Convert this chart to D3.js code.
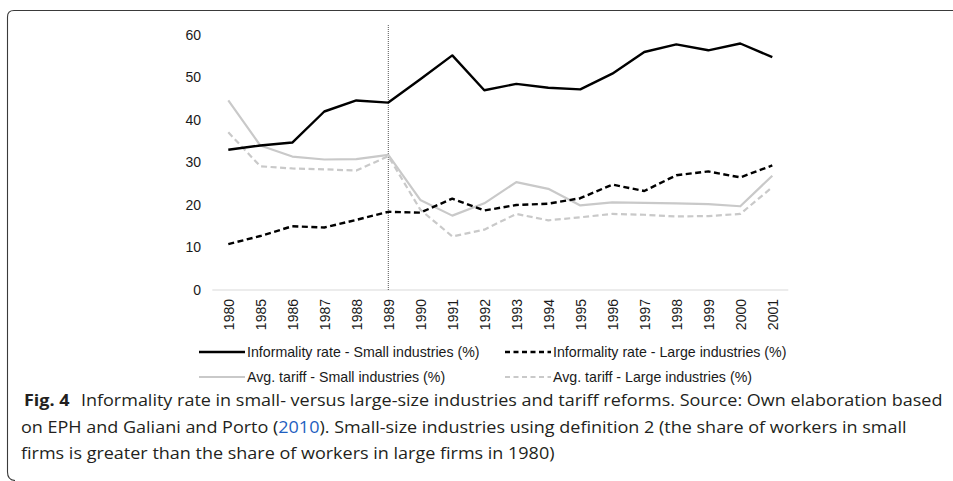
<!DOCTYPE html>
<html>
<head>
<meta charset="utf-8">
<script src="https://cdn.jsdelivr.net/npm/d3@7"></script>
<style>
  html, body { margin: 0; padding: 0; background: #fff; }
  svg { display: block; }
</style>
</head>
<body>
<svg id="chart" width="953" height="481"></svg>
<script>
const years = ["1980","1985","1986","1987","1988","1989","1990","1991","1992","1993","1994","1995","1996","1997","1998","1999","2000","2001"];
const informalSmall = [33.0,34.0,34.7,42.0,44.6,44.1,49.6,55.2,47.0,48.5,47.6,47.2,50.9,56.0,57.8,56.4,58.0,54.8];
const informalLarge = [10.8,12.7,15.0,14.7,16.5,18.4,18.2,21.5,18.7,20.0,20.3,21.6,24.8,23.3,27.0,27.9,26.5,29.3];
const tariffSmall = [44.6,34.0,31.4,30.7,30.8,31.8,21.2,17.5,20.4,25.4,23.8,19.9,20.6,20.5,20.4,20.2,19.7,26.9];
const tariffLarge = [37.1,29.1,28.6,28.4,28.1,31.5,18.9,12.6,14.2,17.9,16.4,17.1,17.9,17.7,17.3,17.4,17.9,24.2];
const yTicks = [0,10,20,30,40,50,60];
const reformYear = "1989";
const seriesNames = [
  "Informality rate - Small industries (%)",
  "Informality rate - Large industries (%)",
  "Avg. tariff - Small industries (%)",
  "Avg. tariff - Large industries (%)"
];

const svg = d3.select("#chart");

// frame
svg.append("path")
  .attr("d", "M953,10.5 H14 Q7.5,10.5 7.5,17 V472 Q7.5,480 15,480.5")
  .attr("fill", "none").attr("stroke", "#3a3a3a").attr("stroke-width", 1.1);

const x = d3.scalePoint().domain(years).range([228.3, 772.3]);
const y = d3.scaleLinear().domain([0, 60]).range([290, 35]);
const step = x.step();

// axis line
svg.append("line")
  .attr("x1", x(years[0]) - step/2).attr("x2", x(years[years.length-1]) + step/2)
  .attr("y1", y(0)).attr("y2", y(0))
  .attr("stroke", "#d9d9d9").attr("stroke-width", 1.2);

const axisFont = "Liberation Sans, Arial, sans-serif";

// y tick labels
const yAxis = d3.axisLeft(y).tickValues(yTicks).tickSize(0).tickPadding(0);
const gy = svg.append("g").attr("transform", "translate(201,0)").call(yAxis);
gy.select(".domain").remove();
gy.selectAll("text").attr("font-family", axisFont)
  .attr("font-size", 14).attr("fill", "#1a1a1a");

// x tick labels
const xAxis = d3.axisBottom(x).tickSize(0).tickPadding(0);
const gx = svg.append("g").attr("transform", `translate(0,${y(0)})`).call(xAxis);
gx.select(".domain").remove();
gx.selectAll("text")
  .attr("font-family", axisFont)
  .attr("font-size", 14).attr("fill", "#1a1a1a")
  .attr("text-anchor", "end")
  .attr("dy", null).attr("y", 0)
  .attr("transform", "translate(5,9) rotate(-90)");

// reform line
svg.append("line")
  .attr("x1", x(reformYear)).attr("x2", x(reformYear))
  .attr("y1", 25).attr("y2", y(0))
  .attr("stroke", "#555").attr("stroke-width", 1).attr("stroke-dasharray", "1,1");

const line = d3.line().x((d, i) => x(years[i])).y(d => y(d));
const styles = [
  {data: informalSmall, color: "#000", width: 2.4, dash: null},
  {data: informalLarge, color: "#000", width: 2.4, dash: "6,3.5"},
  {data: tariffSmall, color: "#c9c9c9", width: 2.2, dash: null},
  {data: tariffLarge, color: "#c9c9c9", width: 2.2, dash: "6,3.5"}
];
[2,3,0,1].forEach(k => {
  const s = styles[k];
  svg.append("path").datum(s.data)
    .attr("d", line).attr("fill", "none")
    .attr("stroke", s.color).attr("stroke-width", s.width)
    .attr("stroke-linejoin", "round")
    .attr("stroke-dasharray", s.dash);
});

// legend
const legPos = [[199, 352], [505, 352], [199, 377], [505, 377]];
seriesNames.forEach((name, k) => {
  const s = styles[k];
  const [lx, ly] = legPos[k];
  svg.append("line").attr("x1", lx).attr("x2", lx + 46).attr("y1", ly).attr("y2", ly)
    .attr("stroke", s.color).attr("stroke-width", s.width)
    .attr("stroke-dasharray", s.dash ? "5,3.5" : null);
  svg.append("text").attr("x", lx + 48).attr("y", ly + 5)
    .attr("font-family", axisFont)
    .attr("font-size", 14.2).attr("fill", "#1a1a1a").text(name);
});

// caption
const capFont = "Open Sans, sans-serif";
const capSize = 16.2;
const capColor = "#231f20";
const cap = svg.append("g");
const l1 = cap.append("text").attr("x", 0).attr("y", 0)
  .attr("font-family", capFont).attr("font-size", capSize).attr("fill", capColor);
l1.append("tspan").attr("font-weight", "bold").text("Fig. 4");
l1.append("tspan").attr("dx", 6).text(" Informality rate in small- versus large-size industries and tariff reforms. Source: Own elaboration based");
const l2 = cap.append("text").attr("x", 0).attr("y", 0)
  .attr("font-family", capFont).attr("font-size", capSize).attr("fill", capColor);
l2.append("tspan").text("on EPH and Galiani and Porto (");
l2.append("tspan").attr("fill", "#1f5fbf").text("2010");
l2.append("tspan").text("). Small-size industries using definition 2 (the share of workers in small");
const l3 = cap.append("text").attr("x", 0).attr("y", 0)
  .attr("font-family", capFont).attr("font-size", capSize).attr("fill", capColor)
  .text("firms is greater than the share of workers in large firms in 1980)");

const w1 = l1.node().getComputedTextLength();
const sx = (936 - 24) / w1;
l1.attr("transform", `translate(24,406) scale(${sx},1)`);
l2.attr("transform", `translate(21,432.5) scale(${sx},1)`);
l3.attr("transform", `translate(21,459) scale(${sx},1)`);
</script>
</body>
</html>
